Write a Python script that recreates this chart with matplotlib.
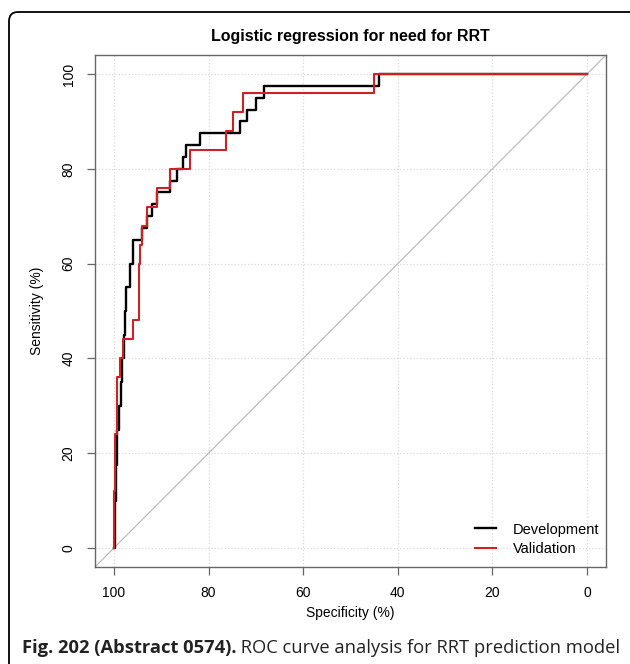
import matplotlib
matplotlib.use("Agg")
import matplotlib.pyplot as plt
from matplotlib.patches import FancyBboxPatch

# ROC step points: (specificity where the level starts, sensitivity level), in %
dev_spec = [100, 99.8, 99.6, 99.3, 99.0, 98.6, 98.2, 97.9, 97.6, 97.5, 96.5, 96.0,
            94.0, 93.1, 92.0, 91.0, 88.2, 86.7, 85.3, 84.8, 81.8, 73.4, 71.9,
            70.0, 68.3, 43.9, 0]
dev_sens = [0, 10, 17.5, 25, 30, 35, 40, 45, 50, 55, 60, 65,
            67.5, 70, 72.5, 75, 77.5, 80, 82.5, 85, 87.5, 90, 92.5,
            95, 97.5, 100, 100]

val_spec = [100, 99.9, 99.7, 99.4, 98.8, 98.0, 95.9, 94.7, 94.4, 94.1, 93.1,
            91.0, 88.2, 84.0, 76.3, 74.9, 72.8, 45.0, 0]
val_sens = [0, 12, 24, 36, 40, 44, 48, 60, 64, 68, 72,
            76, 80, 84, 88, 92, 96, 100, 100]

ticks = [0, 20, 40, 60, 80, 100]

fig = plt.figure(figsize=(6.3, 6.64), dpi=100)
ax = fig.add_axes([95/630, 1 - 567/664, 511/630, 512/664])

plot_font = "Liberation Sans"
axis_col = "#666666"

ax.set_xlim(104, -4)
ax.set_ylim(-4, 104)
ax.set_xticks(ticks)
ax.set_yticks(ticks)
ax.grid(True, color="#d9d9d9", linestyle=":", linewidth=0.9)
ax.set_axisbelow(True)

ax.axline((100, 0), (0, 100), color="#bdbdbd", linewidth=0.9, zorder=1)
ax.plot(dev_spec, dev_sens, drawstyle="steps-post", color="black", linewidth=1.7,
        label="Development", zorder=3)
ax.plot(val_spec, val_sens, drawstyle="steps-post", color="#cc2222", linewidth=1.5,
        label="Validation", zorder=4)

for s in ax.spines.values():
    s.set_color(axis_col)
    s.set_linewidth(1.0)
ax.tick_params(direction="out", length=6, width=0.9, color=axis_col, pad=8,
               labelsize=10)
for lab in ax.get_xticklabels() + ax.get_yticklabels():
    lab.set_family(plot_font)
for lab in ax.get_yticklabels():
    lab.set_rotation(90)
    lab.set_va("center")

ax.set_xlabel("Specificity (%)", fontsize=10, family=plot_font, labelpad=4)
ax.set_ylabel("Sensitivity (%)", fontsize=10, family=plot_font, labelpad=13)
ax.set_title("Logistic regression for need for RRT", fontsize=11.5,
             fontweight="bold", family=plot_font, pad=10)

leg = ax.legend(loc="lower right", bbox_to_anchor=(1.012, -0.005), frameon=False,
                handlelength=1.4, handletextpad=1.15, labelspacing=0.4,
                prop={"family": plot_font, "size": 10.5})

# caption under the chart
cap = fig.text(22/630, 1 - 648/664, "Fig. 202 (Abstract 0574).", fontsize=13.2,
               fontweight="bold", family="Open Sans", va="center", ha="left",
               color="#222222")
ax.annotate(" ROC curve analysis for RRT prediction model", xy=(1, 0.5),
            xycoords=cap, va="center", ha="left", fontsize=13.2,
            family="Open Sans", color="#222222", annotation_clip=False)

# rounded frame around the figure
frame = FancyBboxPatch((9/630, -0.05), (650 - 9)/630, 0.05 + 1 - 12/664,
                       boxstyle="round,pad=0,rounding_size=0.014",
                       transform=fig.transFigure, fill=False,
                       edgecolor="black", linewidth=1.3)
fig.patches.append(frame)

fig.savefig("out.png", dpi=100)
